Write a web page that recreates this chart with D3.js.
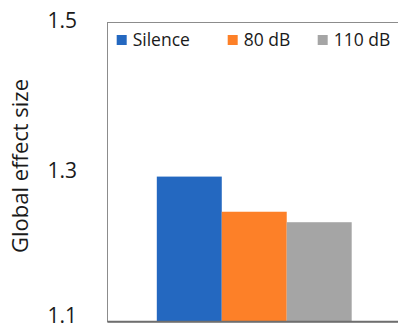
<!DOCTYPE html>
<html>
<head>
<meta charset="utf-8">
<script src="https://cdn.jsdelivr.net/npm/d3@7"></script>
<style>
  html, body { margin: 0; padding: 0; background: #fff; }
  svg { display: block; }
  text { font-family: "Open Sans", sans-serif; fill: #1a1a1a; }
</style>
</head>
<body>
<svg id="chart" width="398" height="329"></svg>
<script>
// Data
const categories = ["Global"];
const seriesNames = ["Silence", "80 dB", "110 dB"];
const seriesValues = [1.294, 1.247, 1.233];
const seriesColors = ["#2468c0", "#fd8028", "#a5a5a5"];
const yTicks = [1.1, 1.3, 1.5];
const yTickLabels = ["1.1", "1.3", "1.5"];

const svg = d3.select("#chart");
const W = 398, H = 329;
const plot = { left: 107.5, right: 401, top: 22.5, bottom: 321.7 };

const y = d3.scaleLinear().domain([1.1, 1.5]).range([plot.bottom, plot.top]);
const x0 = d3.scaleBand().domain(categories)
  .range([plot.left, plot.right]).paddingInner(0).paddingOuter(0.253);
const x1 = d3.scaleBand().domain(seriesNames)
  .range([0, x0.bandwidth()]).padding(0);

// Plot frame (top and left edges)
svg.append("rect")
  .attr("x", plot.left).attr("y", plot.top)
  .attr("width", plot.right - plot.left + 5)
  .attr("height", plot.bottom - plot.top)
  .attr("fill", "none").attr("stroke", "#8c8c8c").attr("stroke-width", 1);

// Bars
const g = svg.append("g");
categories.forEach(cat => {
  g.selectAll("rect.bar")
    .data(seriesNames.map((s, i) => ({ s, v: seriesValues[i], c: seriesColors[i] })))
    .join("rect")
    .attr("class", "bar")
    .attr("x", d => x0(cat) + x1(d.s))
    .attr("y", d => y(d.v))
    .attr("width", x1.bandwidth())
    .attr("height", d => y(1.1) - y(d.v))
    .attr("fill", d => d.c);
});

// Baseline
svg.append("line")
  .attr("x1", plot.left).attr("x2", W)
  .attr("y1", plot.bottom).attr("y2", plot.bottom)
  .attr("stroke", "#6e6e6e").attr("stroke-width", 2);

// Y axis labels
const yAxis = d3.axisLeft(y).tickValues(yTicks)
  .tickFormat((d, i) => yTickLabels[i]).tickSize(0).tickPadding(30.5);
const ya = svg.append("g").attr("transform", `translate(${plot.left},0)`).call(yAxis);
ya.select(".domain").remove();
ya.selectAll("text")
  .style("font-family", "'Open Sans', sans-serif")
  .style("font-size", "21px")
  .attr("fill", "#1a1a1a")
  .attr("dy", "0.26em");
// keep the lowest label fully inside the canvas
ya.selectAll("text").each(function () {
  const b = this.getBBox();
  const tickY = y(d3.select(this).datum());
  const overflow = tickY + b.y + b.height - H;
  if (overflow > 0) d3.select(this).attr("y", -overflow - 0.5);
});

// Y axis title
svg.append("text")
  .attr("transform", "translate(28,166) rotate(-90)")
  .attr("text-anchor", "middle")
  .style("font-size", "22px")
  .text("Global effect size");

// Legend
const legendX = [116.7, 227.7, 317.7];
const legend = svg.append("g");
seriesNames.forEach((s, i) => {
  legend.append("rect")
    .attr("x", legendX[i]).attr("y", 35)
    .attr("width", 10).attr("height", 10)
    .attr("fill", seriesColors[i]);
  legend.append("text")
    .attr("x", legendX[i] + 16).attr("y", 45.8)
    .style("font-size", "17.5px")
    .text(s);
});
</script>
</body>
</html>
